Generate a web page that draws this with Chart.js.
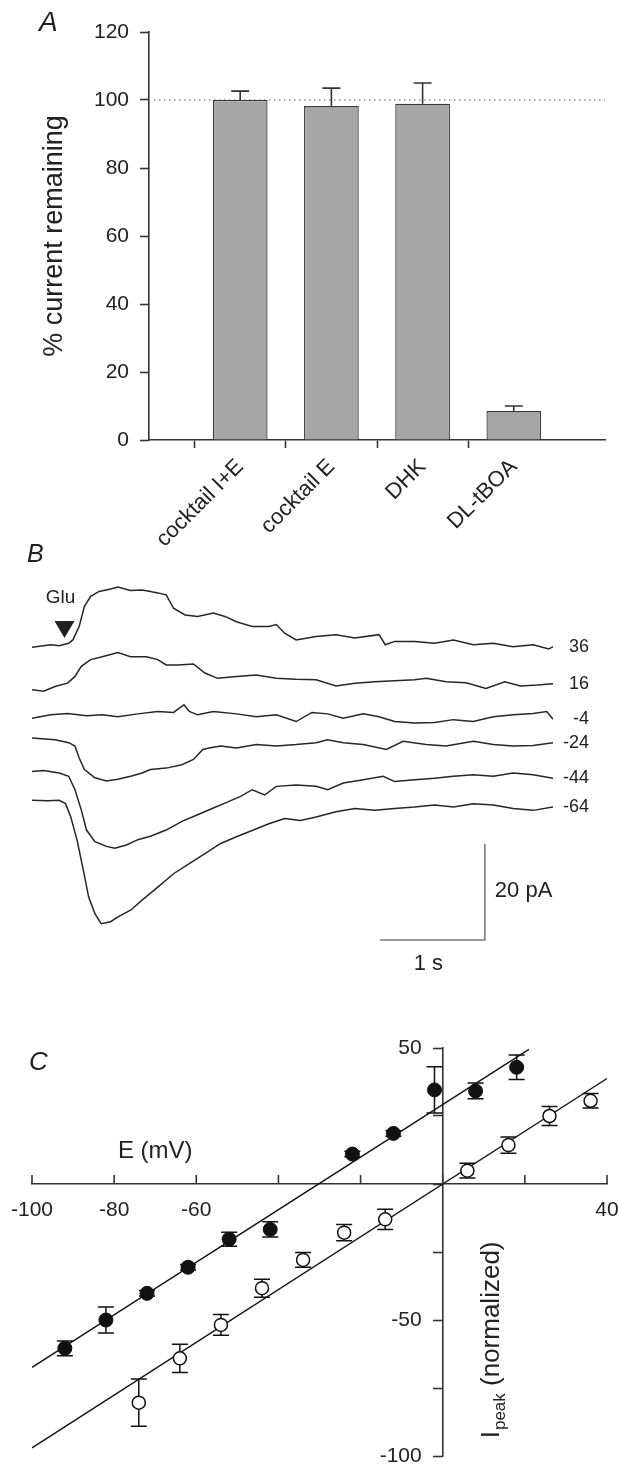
<!DOCTYPE html>
<html>
<head>
<meta charset="utf-8">
<script src="https://cdn.jsdelivr.net/npm/chart.js@4.4.1/dist/chart.umd.min.js"></script>
<style>
  body { margin: 0; background: #fff; }
  #page { position: relative; width: 618px; height: 1467px; overflow: hidden; font-family: "Liberation Sans", Arial, sans-serif; }
  #page canvas { position: absolute; left: 0; }
  .panel { position: absolute; font-style: italic; line-height: 1; color: #222; }
</style>
</head>
<body>
<div id="page">
  <canvas id="chartA" width="618" height="560" style="top:0px"></canvas>
  <canvas id="chartB" width="618" height="470" style="top:530px"></canvas>
  <canvas id="chartC" width="618" height="467" style="top:1000px"></canvas>
  <div class="panel" style="left:39px;top:8px;font-size:28px">A</div>
  <div class="panel" style="left:27px;top:541px;font-size:25px">B</div>
  <div class="panel" style="left:29px;top:1048px;font-size:26px">C</div>
</div>
<script>
// ---- panel A: block of the glutamate current ----
const drugs = ['cocktail I+E', 'cocktail E', 'DHK', 'DL-tBOA']
const remaining = [100, 98.2, 98.9, 8.5]
const remainingSem = [2.6, 5.3, 6.1, 1.5]
const controlLevel = 100

// ---- panel B: current traces (time in s, current in pA) ----
const holdingLabels = ['36', '16', '-4', '-24', '-44', '-64']
const traceOffsets = [0, -8.9, -14.8, -18.9, -25.9, -31.9]

const t36 = [0, 0.18, 0.26, 0.35, 0.39, 0.45, 0.50, 0.56, 0.64, 0.75, 0.82, 0.94, 1.05, 1.13, 1.20, 1.28, 1.35, 1.46, 1.58, 1.73, 1.84, 1.95, 2.10, 2.26, 2.33, 2.41, 2.52, 2.71, 2.90, 3.08, 3.31, 3.37, 3.46, 3.65, 3.84, 4.02, 4.21, 4.40, 4.59, 4.78, 4.93, 4.97]
const i36 = [0, 0.5, 0.3, 0.8, 1.5, 4.3, 8.5, 10.6, 11.6, 12.1, 12.5, 11.8, 11.9, 11.6, 11.3, 10.9, 8.1, 6.7, 6.4, 7.1, 6.4, 5.3, 4.3, 4.3, 4.7, 2.9, 1.5, 2.2, 2.6, 1.9, 2.6, 0.5, 1.2, 1.2, 0.8, 1.5, 0.5, 0.8, 0.1, 0.5, -0.4, 0.1]

const t16 = [0, 0.11, 0.22, 0.34, 0.41, 0.47, 0.56, 0.67, 0.82, 0.94, 1.09, 1.20, 1.28, 1.39, 1.54, 1.65, 1.77, 1.95, 2.14, 2.33, 2.52, 2.71, 2.90, 3.08, 3.27, 3.46, 3.65, 3.76, 3.95, 4.14, 4.33, 4.51, 4.66, 4.82, 4.97]
const i16 = [0, -0.3, 0.7, 1.4, 2.8, 4.9, 6.3, 6.9, 7.8, 6.9, 6.9, 6.3, 5.2, 5.2, 5.4, 3.5, 2.4, 2.8, 3.1, 2.4, 2.2, 2.1, 0.8, 1.4, 1.7, 1.9, 2.1, 2.4, 1.7, 1.5, 0.3, 1.7, 0.8, 1.0, 1.3]

const tM4 = [0, 0.18, 0.34, 0.52, 0.67, 0.82, 1.01, 1.20, 1.35, 1.45, 1.50, 1.58, 1.73, 1.95, 2.14, 2.33, 2.52, 2.67, 2.82, 2.97, 3.16, 3.31, 3.46, 3.65, 3.84, 4.02, 4.21, 4.40, 4.59, 4.78, 4.91, 4.97]
const iM4 = [0, 0.7, 1.0, 0.5, 0.7, 0.3, 0.9, 1.4, 1.2, 2.8, 1.4, 0.7, 1.4, 0.9, 0.3, 0.7, -0.7, 1.2, 0.9, 0, 0.9, 0.3, -0.7, -1.0, -0.9, -0.3, -0.7, 0.3, 0.7, 1.0, 1.4, -0.2]

const tM24 = [0, 0.22, 0.35, 0.41, 0.45, 0.50, 0.60, 0.71, 0.82, 0.94, 1.05, 1.13, 1.28, 1.43, 1.54, 1.63, 1.69, 1.80, 1.95, 2.14, 2.33, 2.52, 2.71, 2.82, 2.97, 3.16, 3.38, 3.54, 3.76, 3.95, 4.21, 4.40, 4.59, 4.78, 4.97]
const iM24 = [0, -0.4, -1.0, -1.7, -4.2, -6.6, -8.3, -9.0, -8.6, -8.0, -7.3, -6.6, -6.3, -5.6, -4.5, -2.4, -2.1, -1.7, -2.1, -1.4, -1.7, -1.4, -1.0, -0.4, -1.0, -1.4, -2.4, -0.7, -1.4, -1.7, -0.7, -1.4, -1.7, -1.6, -1.0]

const tM44 = [0, 0.11, 0.26, 0.35, 0.41, 0.47, 0.52, 0.60, 0.71, 0.79, 0.90, 1.01, 1.13, 1.28, 1.43, 1.58, 1.73, 1.84, 1.99, 2.10, 2.22, 2.33, 2.52, 2.71, 2.82, 2.97, 3.16, 3.35, 3.46, 3.65, 3.84, 4.02, 4.21, 4.40, 4.59, 4.78, 4.97]
const iM44 = [0, 0.2, -0.3, -1.0, -3.8, -8.0, -12.2, -14.6, -15.6, -16.0, -15.3, -14.2, -13.5, -12.2, -10.4, -9.0, -7.6, -6.6, -5.2, -3.8, -4.9, -3.1, -2.8, -3.1, -3.8, -2.4, -1.7, -1.0, -2.1, -1.7, -1.4, -1.0, -0.7, -1.0, -0.3, -0.7, -1.4]

const tM64 = [0, 0.15, 0.26, 0.32, 0.37, 0.43, 0.49, 0.54, 0.60, 0.66, 0.75, 0.82, 0.94, 1.05, 1.20, 1.35, 1.50, 1.65, 1.80, 1.95, 2.10, 2.26, 2.41, 2.56, 2.71, 2.90, 3.08, 3.27, 3.46, 3.65, 3.84, 4.02, 4.21, 4.40, 4.59, 4.78, 4.97]
const iM64 = [0, -0.1, 0, -0.7, -3.5, -8.3, -14.6, -20.1, -23.6, -25.7, -25.3, -24.3, -22.9, -20.8, -18.1, -15.3, -13.2, -11.1, -9.0, -7.6, -6.3, -4.9, -3.8, -4.2, -3.5, -2.4, -1.7, -2.1, -1.7, -1.4, -1.0, -1.4, -0.7, -1.0, -1.7, -2.1, -1.4]

const gluTime = 0.31
const scaleBarT = [3.32, 4.32]   // 1 s
const scaleBarI = [-61, -41]     // 20 pA

// ---- panel C: I-V relation ----
const eFilled = [-92, -82, -72, -62, -52, -42, -22, -12, -2, 8, 18]
const iFilled = [-60.4, -50.0, -40.2, -30.6, -20.3, -16.7, 11.0, 18.6, 34.6, 34.2, 42.9]
const semFilled = [2.7, 4.8, 1.0, 1.0, 2.6, 2.8, 1.0, 1.0, 8.5, 2.9, 4.5]
const eOpen = [-74, -64, -54, -44, -34, -24, -14, 6, 16, 26, 36]
const iOpen = [-80.4, -64.1, -51.8, -38.3, -27.9, -17.9, -13.0, 4.9, 14.3, 25.0, 30.6]
const semOpen = [8.7, 5.2, 3.8, 3.3, 2.7, 3.0, 3.7, 2.7, 3.0, 3.5, 2.7]
const fitFilledE = [-100, 21]
const fitFilledI = [-67.4, 49.5]
const fitOpenE = [-100, 40]
const fitOpenI = [-97, 38.8]
const eTicks = [-100, -80, -60, -40, -20, 0, 20, 40]
const eTickLabels = [-100, -80, -60, 40]
const iTickLabels = [50, -50, -100]

const FONT = '"Liberation Sans", Arial, sans-serif'
const INK = '#222'
const AXIS = '#333'
Chart.defaults.font.family = FONT
Chart.defaults.color = INK
Chart.defaults.animation = false

// ================= A =================
const barExtras = {
  id: 'barExtras',
  beforeDatasetsDraw(chart) {
    const { ctx, chartArea, scales: { y } } = chart
    const py = y.getPixelForValue(controlLevel)
    ctx.save()
    ctx.strokeStyle = '#555'
    ctx.lineWidth = 1.2
    ctx.setLineDash([1.5, 3.5])
    ctx.beginPath()
    ctx.moveTo(chartArea.left + 5, py)
    ctx.lineTo(chartArea.right, py)
    ctx.stroke()
    ctx.restore()
  },
  afterDatasetsDraw(chart) {
    const { ctx, scales: { x, y } } = chart
    ctx.save()
    ctx.strokeStyle = AXIS
    ctx.lineWidth = 1.6
    remaining.forEach((v, i) => {
      const px = x.getPixelForValue(i + 1)
      const top = y.getPixelForValue(v + remainingSem[i])
      ctx.beginPath()
      ctx.moveTo(px, y.getPixelForValue(v))
      ctx.lineTo(px, top)
      ctx.moveTo(px - 9, top)
      ctx.lineTo(px + 9, top)
      ctx.stroke()
    })
    ctx.restore()
  }
}

const labelsA = ['', ...drugs, '']
new Chart(document.querySelector('#chartA'), {
  type: 'bar',
  data: {
    labels: labelsA,
    datasets: [{
      data: [null, ...remaining, null],
      backgroundColor: '#a6a6a6',
      borderColor: '#3a3a3a',
      borderWidth: 1.3,
      barPercentage: 0.6,
      categoryPercentage: 1
    }]
  },
  options: {
    responsive: false,
    layout: { padding: { top: 32, right: 13, left: 0, bottom: 0 } },
    plugins: { legend: { display: false }, tooltip: { enabled: false } },
    scales: {
      x: {
        offset: false,
        afterFit: (scale) => {
          scale.height = 120
          scale.paddingLeft = 0
          scale.paddingRight = 0
        },
        border: { color: AXIS, width: 1.6 },
        grid: {
          drawOnChartArea: false,
          tickLength: 8,
          tickWidth: 1.6,
          tickColor: (c) => (c.index === 0 || c.index === labelsA.length - 1) ? 'rgba(0,0,0,0)' : AXIS
        },
        ticks: { font: { size: 22 }, color: INK, minRotation: 45, maxRotation: 45, autoSkip: false, padding: 6 }
      },
      y: {
        min: 0,
        max: 120,
        afterFit: (scale) => { scale.width = 149 },
        border: { color: AXIS, width: 1.6 },
        grid: { drawOnChartArea: false, tickLength: 9, tickWidth: 1.6, color: AXIS },
        ticks: { stepSize: 20, font: { size: 21 }, color: INK, padding: 11 },
        title: { display: true, text: '% current remaining', font: { size: 27 }, color: INK, padding: { top: 38, bottom: 0 } }
      }
    }
  },
  plugins: [barExtras]
})

// ================= B =================
const traceT = [t36, t16, tM4, tM24, tM44, tM64]
const traceI = [i36, i16, iM4, iM24, iM44, iM64]

const traceExtras = {
  id: 'traceExtras',
  afterDatasetsDraw(chart) {
    const { ctx, scales: { x, y } } = chart
    ctx.save()
    // holding potential labels
    ctx.fillStyle = INK
    ctx.font = `18px ${FONT}`
    ctx.textAlign = 'right'
    ctx.textBaseline = 'middle'
    holdingLabels.forEach((lab, k) => {
      const tt = traceT[k], ii = traceI[k]
      const px = x.getPixelForValue(tt[tt.length - 1]) + 36
      const py = y.getPixelForValue(traceOffsets[k] + ii[ii.length - 1])
      ctx.fillText(lab, px, py)
    })
    // glutamate application arrow
    const gx = x.getPixelForValue(gluTime)
    const gy = y.getPixelForValue(traceOffsets[0] + 1.9)
    ctx.beginPath()
    ctx.moveTo(gx, gy)
    ctx.lineTo(gx - 10, gy - 17)
    ctx.lineTo(gx + 10, gy - 17)
    ctx.closePath()
    ctx.fill()
    ctx.font = `19px ${FONT}`
    ctx.textAlign = 'center'
    ctx.textBaseline = 'alphabetic'
    ctx.fillText('Glu', gx - 4, gy - 35)
    // scale bar
    const x0 = x.getPixelForValue(scaleBarT[0]), x1 = x.getPixelForValue(scaleBarT[1])
    const y0 = y.getPixelForValue(scaleBarI[0]), y1 = y.getPixelForValue(scaleBarI[1])
    ctx.strokeStyle = '#777'
    ctx.lineWidth = 1.6
    ctx.beginPath()
    ctx.moveTo(x0, y0)
    ctx.lineTo(x1, y0)
    ctx.lineTo(x1, y1)
    ctx.stroke()
    ctx.font = `22px ${FONT}`
    ctx.textAlign = 'left'
    ctx.textBaseline = 'middle'
    ctx.fillText('20 pA', x1 + 10, (y0 + y1) / 2 - 1)
    ctx.textAlign = 'center'
    ctx.textBaseline = 'top'
    ctx.fillText('1 s', (x0 + x1) / 2 - 4, y0 + 13)
    ctx.restore()
  }
}

new Chart(document.querySelector('#chartB'), {
  type: 'line',
  data: {
    datasets: holdingLabels.map((lab, k) => ({
      label: lab + ' mV',
      data: traceT[k].map((t, j) => ({ x: t, y: traceOffsets[k] + traceI[k][j] })),
      borderColor: '#262626',
      borderWidth: 1.5,
      pointRadius: 0,
      tension: 0
    }))
  },
  options: {
    responsive: false,
    layout: { padding: { top: 0, right: 65, left: 32, bottom: 0 } },
    plugins: { legend: { display: false }, tooltip: { enabled: false } },
    scales: {
      x: { type: 'linear', display: false, min: 0, max: 4.97 },
      y: { display: false, min: -73.5, max: 24.4 }
    }
  },
  plugins: [traceExtras]
})

// ================= C =================
const ivExtras = {
  id: 'ivExtras',
  beforeDatasetsDraw(chart) {
    const { ctx, scales: { x, y } } = chart
    ctx.save()
    ctx.strokeStyle = '#111'
    ctx.lineWidth = 1.5
    const bars = (es, is, sems) => es.forEach((e, i) => {
      const px = x.getPixelForValue(e)
      const top = y.getPixelForValue(is[i] + sems[i])
      const bot = y.getPixelForValue(is[i] - sems[i])
      ctx.beginPath()
      ctx.moveTo(px, top); ctx.lineTo(px, bot)
      ctx.moveTo(px - 8, top); ctx.lineTo(px + 8, top)
      ctx.moveTo(px - 8, bot); ctx.lineTo(px + 8, bot)
      ctx.stroke()
    })
    bars(eFilled, iFilled, semFilled)
    bars(eOpen, iOpen, semOpen)
    ctx.restore()
  },
  afterDraw(chart) {
    const { ctx, scales: { x, y } } = chart
    const y0 = y.getPixelForValue(0)
    const x0 = x.getPixelForValue(0)
    ctx.save()
    ctx.strokeStyle = AXIS
    ctx.lineWidth = 1.6
    // E ticks point up from the axis
    eTicks.forEach((v) => {
      const px = x.getPixelForValue(v)
      ctx.beginPath()
      ctx.moveTo(px, y0)
      ctx.lineTo(px, y0 - 9)
      ctx.stroke()
    })
    ctx.fillStyle = INK
    ctx.font = `21px ${FONT}`
    ctx.textAlign = 'center'
    ctx.textBaseline = 'middle'
    eTickLabels.forEach((v) => ctx.fillText(String(v), x.getPixelForValue(v), y0 + 26))
    ctx.textAlign = 'right'
    iTickLabels.forEach((v) => ctx.fillText(String(v), x0 - 21, y.getPixelForValue(v)))
    ctx.font = `24px ${FONT}`
    ctx.textAlign = 'center'
    ctx.fillText('E (mV)', x.getPixelForValue(-70), y.getPixelForValue(12))
    // rotated I_peak label, right of the y axis
    ctx.translate(x0 + 56, y.getPixelForValue(-57.5))
    ctx.rotate(-Math.PI / 2)
    ctx.textAlign = 'left'
    ctx.textBaseline = 'alphabetic'
    const big = `26px ${FONT}`, small = `17px ${FONT}`
    ctx.font = big
    const wI = ctx.measureText('I').width
    const rest = ' (normalized)'
    const wRest = ctx.measureText(rest).width
    ctx.font = small
    const wSub = ctx.measureText('peak').width
    let cx = -(wI + wSub + wRest) / 2
    ctx.font = big
    ctx.fillText('I', cx, 0)
    cx += wI + 1
    ctx.font = small
    ctx.fillText('peak', cx, 6)
    cx += wSub
    ctx.font = big
    ctx.fillText(rest, cx, 0)
    ctx.restore()
  }
}

const toXY = (es, is) => es.map((e, i) => ({ x: e, y: is[i] }))

new Chart(document.querySelector('#chartC'), {
  type: 'scatter',
  data: {
    datasets: [
      { label: 'fit filled', type: 'line', data: toXY(fitFilledE, fitFilledI), borderColor: '#111', borderWidth: 1.4, pointRadius: 0, order: 2 },
      { label: 'fit open', type: 'line', data: toXY(fitOpenE, fitOpenI), borderColor: '#111', borderWidth: 1.4, pointRadius: 0, order: 2 },
      { label: 'filled', data: toXY(eFilled, iFilled), pointRadius: 7, backgroundColor: '#111', borderColor: '#111', borderWidth: 1, order: 1 },
      { label: 'open', data: toXY(eOpen, iOpen), pointRadius: 6.5, backgroundColor: '#fff', borderColor: '#111', borderWidth: 1.5, order: 1 }
    ]
  },
  options: {
    responsive: false,
    layout: { padding: { top: 48, right: 11, left: 32, bottom: 11 } },
    plugins: { legend: { display: false }, tooltip: { enabled: false } },
    scales: {
      x: {
        type: 'linear',
        min: -100,
        max: 40,
        position: { y: 0 },
        border: { color: AXIS, width: 1.6 },
        grid: { drawOnChartArea: false, drawTicks: false },
        ticks: { stepSize: 20, display: false }
      },
      y: {
        type: 'linear',
        min: -100,
        max: 50,
        position: { x: 0 },
        border: { color: AXIS, width: 1.6 },
        grid: { drawOnChartArea: false, tickLength: 9, tickWidth: 1.6, color: AXIS },
        ticks: { stepSize: 25, display: false }
      }
    }
  },
  plugins: [ivExtras]
})
</script>
</body>
</html>
